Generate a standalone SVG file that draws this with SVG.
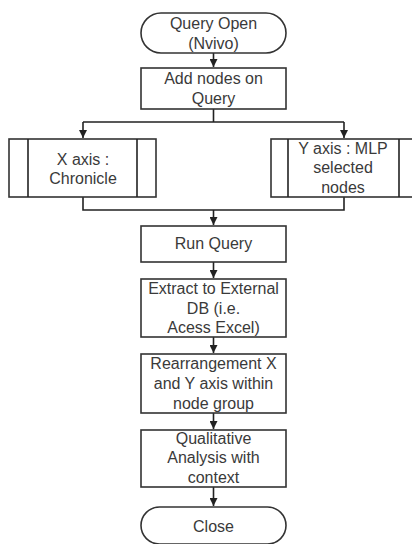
<svg xmlns="http://www.w3.org/2000/svg" width="412" height="544" viewBox="0 0 412 544">
<defs>
<marker id="ah" markerWidth="8" markerHeight="8" refX="8" refY="4" orient="auto" markerUnits="userSpaceOnUse">
<path d="M0,0 L8,4 L0,8 Z" fill="#222"/>
</marker>
<style>
.n{fill:#fff;stroke:#333;stroke-width:1.6}
.t{font-family:"Liberation Sans",Arial,sans-serif;font-size:16px;fill:#3a3a3a;text-anchor:middle;dominant-baseline:central}
.c{fill:none;stroke:#222;stroke-width:1.6}
</style>
</defs>
<rect width="412" height="544" fill="#fff"/>
<g id="connectors">
<path class="c" d="M213.5,53 V67" marker-end="url(#ah)"/>
<path class="c" d="M213.5,109 V122 M83,122 H344"/>
<path class="c" d="M83,122 V138" marker-end="url(#ah)"/>
<path class="c" d="M344,122 V138" marker-end="url(#ah)"/>
<path class="c" d="M83,197 V210 H344 V197"/>
<path class="c" d="M213.5,210 V225" marker-end="url(#ah)"/>
<path class="c" d="M213.5,262 V278" marker-end="url(#ah)"/>
<path class="c" d="M213.5,337 V353" marker-end="url(#ah)"/>
<path class="c" d="M213.5,413 V429" marker-end="url(#ah)"/>
<path class="c" d="M213.5,487 V506" marker-end="url(#ah)"/>
</g>
<g id="n1">
<rect class="n" x="141" y="13" width="145" height="40" rx="20"/>
<text class="t" x="213.5" y="23">Query Open</text>
<text class="t" x="213.5" y="43">(Nvivo)</text>
</g>
<g id="n2">
<rect class="n" x="141" y="68" width="145" height="41"/>
<text class="t" x="213.5" y="78">Add nodes on</text>
<text class="t" x="213.5" y="98">Query</text>
</g>
<g id="n3">
<rect class="n" x="9" y="139" width="147" height="58"/>
<path class="c" d="M28,139 V197 M137,139 V197"/>
<text class="t" x="83" y="159">X axis :</text>
<text class="t" x="83" y="178">Chronicle</text>
</g>
<g id="n4">
<rect class="n" x="271" y="139" width="146" height="58"/>
<path class="c" d="M288,139 V197 M399,139 V197"/>
<text class="t" x="343" y="148">Y axis : MLP</text>
<text class="t" x="343" y="167">selected</text>
<text class="t" x="343" y="187">nodes</text>
</g>
<g id="n5">
<rect class="n" x="141" y="226" width="145" height="36"/>
<text class="t" x="213.5" y="243">Run Query</text>
</g>
<g id="n6">
<rect class="n" x="141" y="279" width="145" height="58"/>
<text class="t" x="213.5" y="288">Extract to External</text>
<text class="t" x="213.5" y="308">DB (i.e.</text>
<text class="t" x="213.5" y="327">Acess Excel)</text>
</g>
<g id="n7">
<rect class="n" x="141" y="354" width="145" height="59"/>
<text class="t" x="213.5" y="363">Rearrangement X</text>
<text class="t" x="213.5" y="383">and Y axis within</text>
<text class="t" x="213.5" y="403">node group</text>
</g>
<g id="n8">
<rect class="n" x="141" y="430" width="145" height="57"/>
<text class="t" x="213.5" y="438">Qualitative</text>
<text class="t" x="213.5" y="457">Analysis with</text>
<text class="t" x="213.5" y="477">context</text>
</g>
<g id="n9">
<rect class="n" x="141" y="507" width="145" height="37" rx="18.5"/>
<text class="t" x="213.5" y="526">Close</text>
</g>
</svg>
